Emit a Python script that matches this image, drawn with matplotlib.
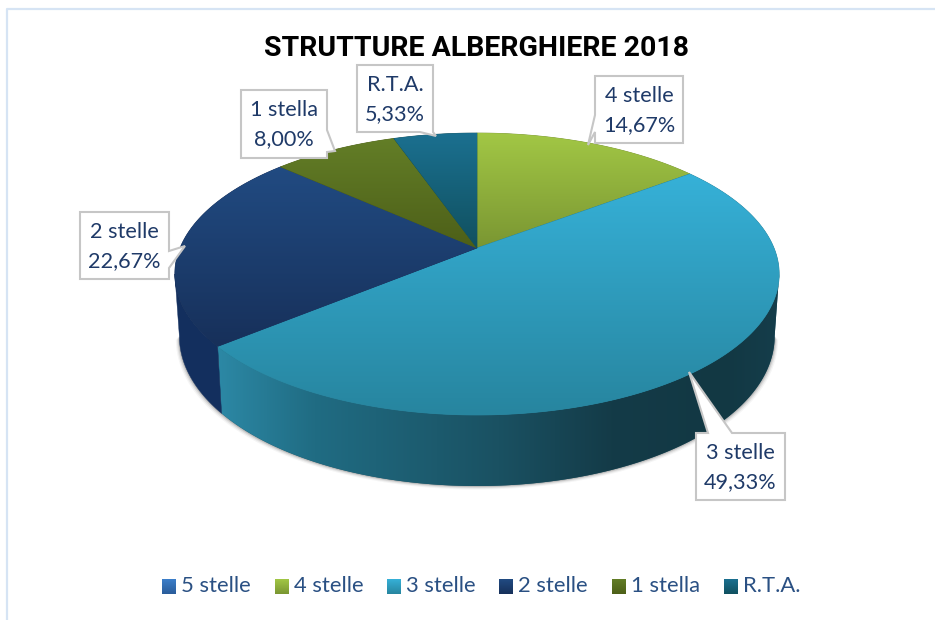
import numpy as np
import matplotlib
matplotlib.use('Agg')
import matplotlib.pyplot as plt
from matplotlib.colors import LinearSegmentedColormap
from matplotlib.patches import Polygon

names = ['5 stelle', '4 stelle', '3 stelle', '2 stelle', '1 stella', 'R.T.A.']
values = [0.0, 14.67, 49.33, 22.67, 8.00, 5.33]
title = 'STRUTTURE ALBERGHIERE 2018'

top_col = ['#3c7fca', '#a2c745', '#36b1d8', '#214b82', '#637e27', '#1b7090']
low_col = ['#2a5c9a', '#7a9632', '#27859f', '#17305a', '#4d5f18', '#10505f']
side_col = '#132f5e'
side_stops = [(0.0, '#2c88a5'), (0.17, '#206c83'), (0.5, '#1a5162'), (0.7, '#143b48'),
              (0.9, '#123843'), (1.0, '#153d4b')]

# callout boxes in pixels: left, right, top, bottom, then pointer outline
boxes = {
    '4 stelle': (595, 683, 76, 143, [(595, 115), (588, 145), (595, 132)], 'left'),
    '3 stelle': (696, 785, 433, 500, [(708, 433), (689, 372), (732, 433)], 'top'),
    '2 stelle': (80, 169, 212, 279, [(169, 251), (185, 246), (169, 268)], 'right'),
    '1 stella': (241, 327, 90, 158, [(327, 130), (335, 151), (327, 152)], 'right'),
    'R.T.A.': (357, 433, 65, 132, [(420, 132), (436, 136), (433, 132)], 'bottom'),
}
legend_x = [162, 275, 387, 499, 612, 724]

text_font = ['Lato', 'DejaVu Sans']
cx = 477
rx = 297
persp = 0.1844
# angle where the face outline is widest, the wall silhouette starts there
t_side = np.arccos(-persp)


def top_edge(t):
    u, v = np.sin(t), np.cos(t)
    d = 1 + persp * v
    return cx + rx * u / d, (248 - 90.47 * v) / d


def bottom_edge(t):
    x, y = top_edge(t)
    v = np.cos(t)
    return cx + (x - cx) * 0.985, y + 60 - 11 * v


def grad(ax, patch, c0, c1):
    # gradient image clipped by the patch outline
    xy = patch.get_xy()
    x0, x1, y0, y1 = xy[:, 0].min(), xy[:, 0].max(), xy[:, 1].min(), xy[:, 1].max()
    g = np.linspace(0, 1, 256).reshape(-1, 1)
    cmap = LinearSegmentedColormap.from_list('s', [c0, c1])
    im = ax.imshow(g, extent=(x0, x1, y1, y0), cmap=cmap, aspect='auto', origin='upper', zorder=patch.get_zorder())
    im.set_clip_path(patch)


def wall_patch(t2, **kw):
    tx, ty = top_edge(t2)
    ux, uy = bottom_edge(t2)
    return Polygon(np.column_stack([np.r_[tx, ux[::-1]], np.r_[ty, uy[::-1]]]), closed=True, **kw)


fig = plt.figure(figsize=(9.35, 6.2), dpi=100)
ax = fig.add_axes([0, 0, 1, 1])
ax.axis('off')

# outer frame of the pasted chart
ax.plot([6.5, 6.5, 935], [620, 9, 9], color='#d6e4f4', lw=1.6, zorder=1)

# soft shadow under the wall
t_all = np.linspace(t_side, 2 * np.pi - t_side, 200)
bx, by = bottom_edge(t_all)
for off, a in [(3.5, 0.06), (2.5, 0.10), (1.5, 0.16), (0.7, 0.22)]:
    sx = cx + (bx - cx) * (1 + off / 300)
    sy = by + off
    ax.add_patch(Polygon(np.column_stack([sx, sy]), closed=True, fc='#555555', ec='none', alpha=a, zorder=2))

# walls and top faces, clockwise from twelve o'clock
angles = np.cumsum([0] + values) / sum(values) * 2 * np.pi

for i in range(len(values)):
    a0, a1 = angles[i], angles[i + 1]
    if names[i] == '3 stelle':
        wall = wall_patch(np.linspace(t_side, a1, 200), fc='#1a5162', ec='none', zorder=3)
        ax.add_patch(wall)
        xy = wall.get_xy()
        cmap = LinearSegmentedColormap.from_list('w', side_stops)
        im = ax.imshow(np.linspace(0, 1, 256).reshape(1, -1), cmap=cmap, aspect='auto', zorder=3,
                       extent=(xy[:, 0].min(), xy[:, 0].max(), xy[:, 1].max(), xy[:, 1].min()))
        im.set_clip_path(wall)
    if names[i] == '2 stelle':
        ax.add_patch(wall_patch(np.linspace(a0, 2 * np.pi - t_side, 100), fc=side_col, ec=side_col, lw=0.3, zorder=3))

for i in range(len(values)):
    a0, a1 = angles[i], angles[i + 1]
    if a1 <= a0:
        continue
    t = np.linspace(a0, a1, 200)
    ex, ey = top_edge(t)
    face = Polygon(np.column_stack([np.r_[cx, ex], np.r_[248, ey]]), closed=True, fc=low_col[i], ec=low_col[i],
                   lw=0.5, zorder=4 + i * 0.01)
    ax.add_patch(face)
    grad(ax, face, top_col[i], low_col[i])

# title
ax.text(476, 48.5, title, ha='center', va='center', fontsize=20.5, fontweight='bold', color='black',
        family=['Roboto', 'Liberation Sans'], zorder=8)

# callouts
for i in range(len(values)):
    if names[i] not in boxes:
        continue
    l, r, t, b, ptr, side = boxes[names[i]]
    if side == 'left':
        outline = [(l, t), (r, t), (r, b), (l, b)] + ptr[::-1]
    elif side == 'right':
        outline = [(l, t), (r, t)] + ptr + [(r, b), (l, b)]
    elif side == 'top':
        outline = [(l, t)] + ptr + [(r, t), (r, b), (l, b)]
    else:
        outline = [(l, t), (r, t), (r, b)] + ptr[::-1] + [(l, b)]
    ax.add_patch(Polygon(outline, closed=True, fc='white', ec='#c6c6c6', lw=1.5, zorder=9, joinstyle='miter'))
    pct = f'{values[i]:.2f}'.replace('.', ',') + '%'
    ax.text((l + r) / 2, t + 20, names[i], ha='center', va='center', fontsize=15.6, color='#1f3a68',
            family=text_font, zorder=10)
    ax.text((l + r) / 2, t + 49, pct, ha='center', va='center', fontsize=15.6, color='#1f3a68',
            family=text_font, zorder=10)

# legend
for i, name in enumerate(names):
    x = legend_x[i]
    sq = Polygon([(x, 579), (x + 14, 579), (x + 14, 594), (x, 594)], closed=True, fc=low_col[i], ec='none', zorder=5)
    ax.add_patch(sq)
    grad(ax, sq, top_col[i], low_col[i])
    ax.text(x + 19, 586, name, ha='left', va='center', fontsize=15.8, color='#2a5083', family=text_font, zorder=6)

ax.set_xlim(0, 935)
ax.set_ylim(620, 0)
fig.savefig('out.png', dpi=100)
